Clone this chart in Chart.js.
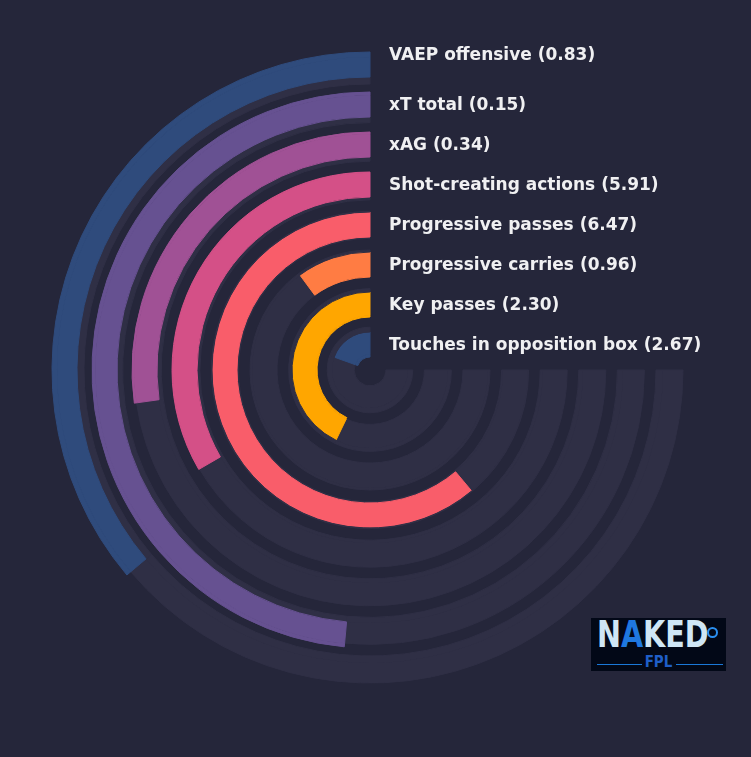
<!DOCTYPE html>
<html><head><meta charset="utf-8">
<script src="https://cdn.jsdelivr.net/npm/chart.js@4.4.1/dist/chart.umd.min.js"></script>
<style>
html,body{margin:0;padding:0;background:#25263a;width:751px;height:757px;overflow:hidden;}
#c{position:absolute;left:0;top:0;}
#logo{position:absolute;left:591px;top:618px;width:135px;height:53px;background:#020817;overflow:hidden;}
#logo .naked{position:absolute;left:6px;top:-4px;font:bold 37px "DejaVu Sans Condensed","DejaVu Sans",sans-serif;color:#cfe6f5;line-height:42px;white-space:nowrap;transform:scaleX(0.86);transform-origin:0 0;}
#logo .naked .fin{color:#1f78e0;}
#logo .dot{position:absolute;left:116px;top:9px;width:7px;height:7px;border:2px solid #2a8ff0;border-radius:50%;}
#logo .fpl{position:absolute;left:0;top:36px;width:135px;text-align:center;font:bold 15px "DejaVu Sans Condensed","DejaVu Sans",sans-serif;color:#1f5ec8;line-height:16px;}
#logo .ln{position:absolute;top:46px;height:1px;background:#1a78d8;}
</style></head><body>
<canvas id="c" width="751" height="757"></canvas>
<div id="logo">
  <div class="naked">N<span class="fin">A</span>KED</div>
  <div class="dot"></div>
  <div class="ln" style="left:6px;width:45px"></div>
  <div class="fpl">FPL</div>
  <div class="ln" style="left:85px;width:47px"></div>
</div>
<script>
// ---- data ----
const metrics = ['VAEP offensive','xT total','xAG','Shot-creating actions','Progressive passes','Progressive carries','Key passes','Touches in opposition box'];
const rawValues = [0.83, 0.15, 0.34, 5.91, 6.47, 0.96, 2.30, 2.67];
const percentiles = [48.2, 64.7, 36.3, 44.5, 81.5, 13.5, 57.1, 26.0];
const scaleMax = 100;
const barColors = ['#2f4b7c','#665191','#a05195','#d45087','#f95d6a','#ff7c43','#ffa600','#2f4b7c'];

// ---- styling / geometry ----
const BG = '#25263a', TRACK = '#2f2f45';
const TRACK_OUT0 = 313, TRACK_PITCH = 38.6, TRACK_W = 27;
const BAR_OUT0 = 318, BAR_PITCH = 40, BAR_W = 25;

function gapSet(w){
  return {data:[scaleMax], backgroundColor:['rgba(0,0,0,0)'], borderWidth:0, hoverBorderWidth:0, weight:w};
}
const datasets = [];
const barMid = [];
let prevInner = null;
metrics.forEach((m,i)=>{
  const tO = TRACK_OUT0 - i*TRACK_PITCH, tI = tO - TRACK_W;
  const bO = BAR_OUT0 - i*BAR_PITCH, bI = bO - BAR_W;
  barMid.push((bO+bI)/2);
  const top = Math.max(tO,bO), bot = Math.min(tI,bI);
  if (prevInner !== null && prevInner - top > 0.01) datasets.push(gapSet(prevInner - top));
  const bounds = [...new Set([tO,tI,bO,bI])].sort((a,b)=>b-a);
  for (let k=0;k<bounds.length-1;k++){
    const hi = bounds[k], lo = bounds[k+1], w = hi-lo, mid = (hi+lo)/2;
    if (w < 0.01) continue;
    const hasT = mid < tO && mid > tI, hasB = mid < bO && mid > bI;
    if (!hasT && !hasB){ datasets.push(gapSet(w)); continue; }
    const c0 = hasT ? TRACK : 'rgba(0,0,0,0)';
    const c1 = hasB ? barColors[i] : c0;
    datasets.push({
      label: metrics[i],
      data: [scaleMax - percentiles[i], percentiles[i]],
      backgroundColor: [c0, c1],
      borderColor: [c0, c1],
      borderWidth: 1, hoverBorderWidth: 1,
      weight: w
    });
  }
  prevInner = bot;
});

const ringLabels = {
  id:'ringLabels',
  afterDatasetsDraw(chart){
    const el = chart.getDatasetMeta(0).data[0];
    const cx = el.x, cy = el.y;
    const ctx = chart.ctx;
    ctx.save();
    ctx.font = 'bold 17px "DejaVu Sans", sans-serif';
    ctx.fillStyle = '#f0f0f2';
    ctx.textBaseline = 'middle';
    ctx.textAlign = 'left';
    metrics.forEach((m,i)=>{
      const y = cy - barMid[i] + 1 + (i===0 ? -9.5 : 0);
      ctx.fillText(m + ' (' + rawValues[i].toFixed(2) + ')', cx + 19, y);
    });
    ctx.restore();
  }
};

new Chart(document.getElementById('c'), {
  type:'doughnut',
  data:{labels:['rest','value'], datasets},
  options:{
    responsive:false, animation:false, events:[],
    rotation:90, circumference:270,
    cutout: prevInner,
    layout:{padding:{left:51.5, top:51.5, right:62.5, bottom:68.5}},
    plugins:{legend:{display:false}, tooltip:{enabled:false}}
  },
  plugins:[ringLabels]
});
</script>
</body></html>
